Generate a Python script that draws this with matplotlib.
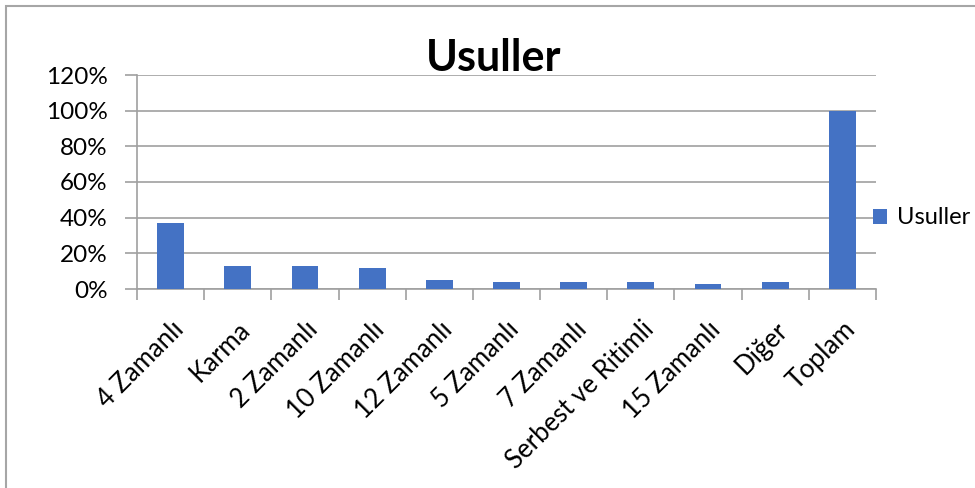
import matplotlib.pyplot as plt
import numpy as np
from matplotlib.patches import Rectangle

categories = ["4 Zamanlı", "Karma", "2 Zamanlı", "10 Zamanlı", "12 Zamanlı",
              "5 Zamanlı", "7 Zamanlı", "Serbest ve Ritimli", "15 Zamanlı",
              "Diğer", "Toplam"]
values = [37, 13, 13, 12, 5, 4, 4, 4, 3, 4, 100]
y_ticks = [0, 20, 40, 60, 80, 100, 120]
y_labels = ["0%", "20%", "40%", "60%", "80%", "100%", "120%"]

plt.rcParams['font.family'] = ['Lato', 'DejaVu Sans']
grid_col = '#a0a0a0'
bar_col = '#4472C4'

fig = plt.figure(figsize=(9.75, 4.88), dpi=100)
ax = fig.add_axes([137/975, 1 - 289/488, (876 - 137)/975, (289 - 75)/488])

x = np.arange(len(categories))
ax.bar(x, values, width=0.4, color=bar_col, label="Usuller", zorder=3)

ax.set_xlim(-0.5, len(categories) - 0.5)
ax.set_ylim(0, 120)
ax.set_yticks(y_ticks)
ax.set_yticklabels(y_labels, fontsize=17.5)
ax.yaxis.grid(True, color=grid_col, lw=1.2, zorder=0)

ax.set_xticks(x)
ax.set_xticklabels(categories, rotation=45, ha='right', rotation_mode='anchor', fontsize=18.5)
ax.tick_params(axis='x', length=0, pad=20)
ax.set_xticks(np.arange(len(categories) + 1) - 0.5, minor=True)
ax.tick_params(axis='x', which='minor', length=8, color=grid_col, width=1.2)
ax.tick_params(axis='y', length=9, color=grid_col, width=1.2, pad=12)

for s in ['top', 'right']:
    ax.spines[s].set_visible(False)
for s in ['left', 'bottom']:
    ax.spines[s].set_color(grid_col)
    ax.spines[s].set_linewidth(1.2)

fig.text(494/975, 1 - 58/488, "Usuller", fontsize=31, fontweight='bold', ha='center', va='center')

ax.legend(loc='center left', bbox_to_anchor=(873/975, 1 - 218/488), bbox_transform=fig.transFigure,
          frameon=False, fontsize=17, handlelength=0.6, handleheight=0.6, handletextpad=0.4,
          borderpad=0, borderaxespad=0)

fig.patches.append(Rectangle((6/975, -0.1), 1.2, 1 - 6/488 + 0.1, transform=fig.transFigure,
                             fill=False, edgecolor='#a6a6a6', lw=1.5))

fig.savefig("out.png", dpi=100)
